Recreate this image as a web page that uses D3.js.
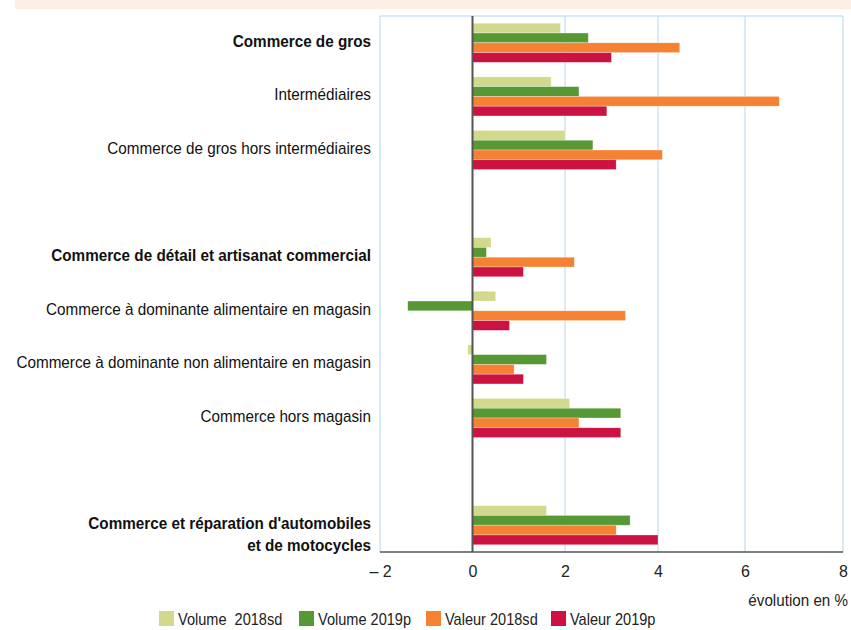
<!DOCTYPE html>
<html>
<head>
<meta charset="utf-8">
<script src="https://cdn.jsdelivr.net/npm/d3@7"></script>
<style>
  body { margin: 0; background: #fff; }
  svg { display: block; font-family: "Liberation Sans Narrow", "Liberation Sans", Arial, sans-serif; }
  text { white-space: pre; }
</style>
</head>
<body>
<div class="card"></div>
<script>
const w = 851;
const h = 630;

// categories ("" = empty spacer row)
const categories = [
  "Commerce de gros",
  "Intermédiaires",
  "Commerce de gros hors intermédiaires",
  "",
  "Commerce de détail et artisanat commercial",
  "Commerce à dominante alimentaire en magasin",
  "Commerce à dominante non alimentaire en magasin",
  "Commerce hors magasin",
  " ",
  "Commerce et réparation d'automobiles|et de motocycles"
];
const boldCats = ["Commerce de gros", "Commerce de détail et artisanat commercial",
  "Commerce et réparation d'automobiles|et de motocycles"];

const seriesNames = ["Volume  2018sd", "Volume 2019p", "Valeur 2018sd", "Valeur 2019p"];
const volume2018 = [1.9, 1.7, 2.0, null, 0.4, 0.5, -0.1, 2.1, null, 1.6];
const volume2019 = [2.5, 2.3, 2.6, null, 0.3, -1.4, 1.6, 3.2, null, 3.4];
const valeur2018 = [4.5, 6.7, 4.1, null, 2.2, 3.3, 0.9, 2.3, null, 3.1];
const valeur2019 = [3.0, 2.9, 3.1, null, 1.1, 0.8, 1.1, 3.2, null, 4.0];
const colors = ["#d2d98c", "#559834", "#f58232", "#cc1240"];

const xTicks = [-2, 0, 2, 4, 6, 8];
const xTickLabels = ["\u2013 2", "0", "2", "4", "6", "8"];

const pLeft = 380, pRight = 843, pTop = 16, pBottom = 552;
// the original axis is drawn with slightly uneven tick spacing
const tickPos = [380, 472.5, 565, 658, 745, 843];

var svg = d3.select(".card").append("svg")
  .attr("width", w)
  .attr("height", h);

// header strip
svg.append("rect")
  .attr("x", 15).attr("y", 0)
  .attr("width", w - 15).attr("height", 9)
  .attr("fill", "#fdefe4");

var xScale = d3.scaleLinear().domain(xTicks).range(tickPos);
var yScale = d3.scaleBand().domain(categories).range([pTop, pBottom])
  .paddingInner(0.27).paddingOuter(0.135);
var sub = d3.scaleBand().domain(d3.range(4)).range([0, yScale.bandwidth()]);

// grid
svg.append("g").selectAll("line")
  .data(xTicks.filter(d => d !== 0))
  .enter().append("line")
  .attr("x1", d => xScale(d)).attr("x2", d => xScale(d))
  .attr("y1", pTop).attr("y2", pBottom)
  .attr("stroke", "#b3d6ee").attr("stroke-width", 1);
svg.append("line")
  .attr("x1", pLeft).attr("x2", pRight).attr("y1", pTop).attr("y2", pTop)
  .attr("stroke", "#b3d6ee");

// bars
const series = [volume2018, volume2019, valeur2018, valeur2019];
series.forEach(function(vals, s) {
  svg.append("g").selectAll("rect")
    .data(vals.map((v, i) => ({ v: v, c: categories[i] })).filter(d => d.v !== null))
    .enter().append("rect")
    .attr("x", d => xScale(Math.min(0, d.v)))
    .attr("y", d => yScale(d.c) + sub(s))
    .attr("width", d => Math.abs(xScale(d.v) - xScale(0)))
    .attr("height", sub.bandwidth())
    .attr("fill", colors[s])
    .attr("stroke", "#ffffff").attr("stroke-opacity", 0.5).attr("stroke-width", 0.6);
});

// zero line and x axis line
svg.append("line")
  .attr("x1", xScale(0)).attr("x2", xScale(0))
  .attr("y1", pTop).attr("y2", pBottom)
  .attr("stroke", "#555").attr("stroke-width", 2);
svg.append("line")
  .attr("x1", pLeft).attr("x2", pRight).attr("y1", pBottom).attr("y2", pBottom)
  .attr("stroke", "#555").attr("stroke-width", 1.5);

// x tick labels
var xAxis = d3.axisBottom(xScale).tickValues(xTicks)
  .tickFormat((d, i) => xTickLabels[i]).tickSize(0).tickPadding(14);
var gx = svg.append("g").attr("transform", "translate(0," + pBottom + ")").call(xAxis);
gx.select(".domain").remove();
gx.selectAll("text")
  .attr("font-family", "Liberation Sans Narrow, Liberation Sans, sans-serif")
  .attr("font-size", 16).attr("fill", "#222");

svg.append("text")
  .attr("transform", "translate(848,606) scale(0.95,1)")
  .attr("text-anchor", "end").attr("font-size", 16).attr("fill", "#222")
  .text("évolution en %");

// category labels
var labels = svg.append("g").selectAll("text")
  .data(categories.filter(c => c.trim() !== ""))
  .enter().append("text")
  .attr("text-anchor", "end")
  .attr("font-size", 16)
  .attr("fill", "#111")
  .attr("font-weight", d => boldCats.includes(d) ? "bold" : "normal")
  .attr("transform", function(d) {
    var cy = yScale(d) + yScale.bandwidth() / 2 + 4;
    return "translate(371," + cy + ") scale(0.955,1)";
  });
labels.selectAll("tspan")
  .data(d => d.split("|"))
  .enter().append("tspan")
  .attr("x", 0)
  .attr("dy", (d, i) => i === 0 ? 0 : 22)
  .text(d => d);

// legend
const legendX = [159, 299, 426, 551];
var lg = svg.append("g").selectAll("g")
  .data(seriesNames)
  .enter().append("g")
  .attr("transform", (d, i) => "translate(" + legendX[i] + ",611)");
lg.append("rect").attr("width", 15).attr("height", 15)
  .attr("fill", (d, i) => colors[i]);
lg.append("text")
  .attr("transform", "translate(19,13.5) scale(0.91,1)")
  .attr("font-size", 16).attr("fill", "#222")
  .text(d => d);
</script>
</body>
</html>
